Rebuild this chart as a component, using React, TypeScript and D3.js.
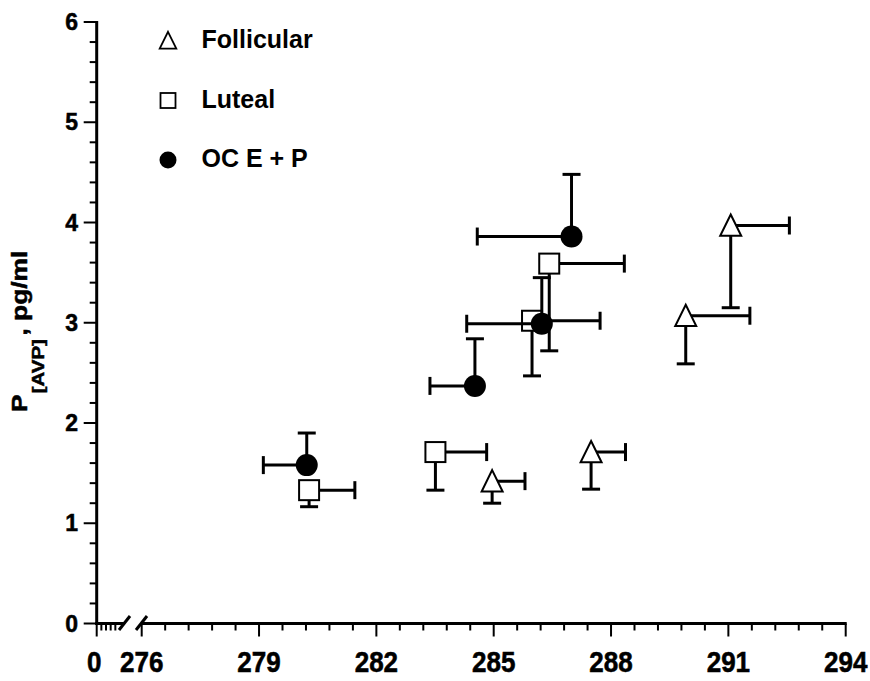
import React from 'react';
import * as d3 from 'd3';

// ---- data ----
const follicularX = [284.96, 287.49, 289.91, 291.06];
const follicularY = [1.42, 1.71, 3.07, 3.97];
const follicularXErr = [0.84, 0.88, 1.64, 1.5]; // to the right
const follicularYErr = [0.22, 0.37, 0.48, 0.82]; // downward

const lutealX = [280.28, 283.51, 285.98, 286.42];
const lutealY = [1.33, 1.71, 3.02, 3.59];
const lutealXErr = [1.17, 1.31, 1.74, 1.92]; // to the right
const lutealYErr = [0.165, 0.38, 0.55, 0.87]; // downward

const ocX = [280.22, 284.52, 286.23, 286.99];
const ocY = [1.58, 2.37, 2.99, 3.86];
const ocXErr = [1.11, 1.15, 1.92, 2.41]; // to the left
const ocYErr = [0.32, 0.47, 0.46, 0.62]; // upward

const xTicks = [276, 279, 282, 285, 288, 291, 294];
const xLowTicks = [0];
const yTicks = [0, 1, 2, 3, 4, 5, 6];
const legendLabels = ['Follicular', 'Luteal', 'OC E + P'];

const FONT = '"Liberation Sans", Arial, Helvetica, sans-serif';

export default function App() {
  const W = 870;
  const H = 681;
  const x = d3.scaleLinear().domain([276, 294]).range([141.7, 845.7]);
  const xLow = d3.scaleLinear().domain([0, 1]).range([96.7, 120]);
  const y = d3.scaleLinear().domain([0, 6]).range([623.5, 22]);

  const x0 = xLow(0);
  const yBase = y(0);

  const yMinor = d3.range(0, 6.0001, 0.2).filter((v) => Math.abs(v - Math.round(v)) > 1e-6);
  const xMinor = d3.range(276, 294.001, 0.6).filter((v) => Math.abs((v - 276) / 3 - Math.round((v - 276) / 3)) > 1e-6);
  const xLowMinor = [0.2, 0.4, 0.6, 0.8];

  const cap = 9;
  const wStroke = 3;

  const triPath = (cx: number, cy: number, s: number) =>
    `M${cx},${cy - s * 1.05} L${cx + s},${cy + s * 0.98} L${cx - s},${cy + s * 0.98} Z`;

  const heavy = { stroke: '#000', strokeWidth: 0.5 };

  return (
    <svg width={W} height={H} style={{ position: 'absolute', left: 0, top: 0, background: '#fff' }}>
      <rect x={0} y={0} width={W} height={H} fill="#fff" />
      {/* Y axis */}
      <line x1={x0} x2={x0} y1={y(6) - 1} y2={yBase + 1.5} stroke="#000" strokeWidth={3} />
      {yTicks.map((t) => (
        <line key={'ytM' + t} x1={x0 - 13} x2={x0} y1={y(t)} y2={y(t)} stroke="#000" strokeWidth={2} />
      ))}
      {yMinor.map((t, i) => (
        <line key={'ytm' + i} x1={x0 - 7} x2={x0} y1={y(t)} y2={y(t)} stroke="#000" strokeWidth={2} />
      ))}
      {yTicks.map((t) => (
        <text key={'yl' + t} x={78} y={y(t) + 8.2} textAnchor="end" fontFamily={FONT} fontWeight="bold" fontSize={23} {...heavy}>
          {t}
        </text>
      ))}

      {/* X axis, with break */}
      <line x1={x0 - 1.5} x2={124.5} y1={yBase} y2={yBase} stroke="#000" strokeWidth={3} />
      <line x1={x(276)} x2={x(294) + 1} y1={yBase} y2={yBase} stroke="#000" strokeWidth={3} />
      <line x1={119} y1={630} x2={130} y2={616} stroke="#000" strokeWidth={3} />
      <line x1={136} y1={630} x2={147} y2={616} stroke="#000" strokeWidth={3} />
      {xLowTicks.map((t) => (
        <line key={'xlM' + t} x1={xLow(t)} x2={xLow(t)} y1={yBase} y2={yBase + 13} stroke="#000" strokeWidth={2} />
      ))}
      {xLowMinor.map((t) => (
        <line key={'xlm' + t} x1={xLow(t)} x2={xLow(t)} y1={yBase} y2={yBase + 7} stroke="#000" strokeWidth={2} />
      ))}
      {xTicks.map((t) => (
        <line key={'xtM' + t} x1={x(t)} x2={x(t)} y1={yBase} y2={yBase + 13} stroke="#000" strokeWidth={2} />
      ))}
      {xMinor.map((t, i) => (
        <line key={'xtm' + i} x1={x(t)} x2={x(t)} y1={yBase} y2={yBase + 7} stroke="#000" strokeWidth={2} />
      ))}
      {xLowTicks.map((t) => (
        <g key={'xll' + t} transform={`translate(${xLow(t) - 2.5},672) scale(1,1.16)`}>
          <text x={0} y={0} textAnchor="middle" fontFamily={FONT} fontWeight="bold" fontSize={26} {...heavy}>
            {t}
          </text>
        </g>
      ))}
      {xTicks.map((t) => (
        <g key={'xl' + t} transform={`translate(${x(t)},672) scale(1,1.16)`}>
          <text x={0} y={0} textAnchor="middle" fontFamily={FONT} fontWeight="bold" fontSize={26} {...heavy}>
            {t}
          </text>
        </g>
      ))}

      {/* Y axis title */}
      <g transform="translate(27,412) rotate(-90) scale(1.2,1)">
        <text x={0} y={0} fontFamily={FONT} fontWeight="bold" fontSize={22} {...heavy}>
          P
          <tspan fontSize={17} dy={17} dx={1}>[AVP]</tspan>
          <tspan fontSize={22} dy={-17} dx={3}>, pg/ml</tspan>
        </text>
      </g>

      {/* Follicular: whiskers right and down */}
      {follicularX.map((v, i) => {
        const cx = x(v);
        const cy = y(follicularY[i]);
        const xr = x(v + follicularXErr[i]);
        const yd = y(follicularY[i] - follicularYErr[i]);
        return (
          <g key={'f' + i}>
            <line x1={cx} x2={xr} y1={cy} y2={cy} stroke="#000" strokeWidth={wStroke} />
            <line x1={xr} x2={xr} y1={cy - cap} y2={cy + cap} stroke="#000" strokeWidth={wStroke} />
            <line x1={cx} x2={cx} y1={cy} y2={yd} stroke="#000" strokeWidth={wStroke} />
            <line x1={cx - cap} x2={cx + cap} y1={yd} y2={yd} stroke="#000" strokeWidth={wStroke} />
            <path d={triPath(cx, cy, 10.5)} fill="#fff" stroke="#000" strokeWidth={2} />
          </g>
        );
      })}

      {/* Luteal: whiskers right and down */}
      {lutealX.map((v, i) => {
        const cx = x(v);
        const cy = y(lutealY[i]);
        const xr = x(v + lutealXErr[i]);
        const yd = y(lutealY[i] - lutealYErr[i]);
        return (
          <g key={'l' + i}>
            <line x1={cx} x2={xr} y1={cy} y2={cy} stroke="#000" strokeWidth={wStroke} />
            <line x1={xr} x2={xr} y1={cy - cap} y2={cy + cap} stroke="#000" strokeWidth={wStroke} />
            <line x1={cx} x2={cx} y1={cy} y2={yd} stroke="#000" strokeWidth={wStroke} />
            <line x1={cx - cap} x2={cx + cap} y1={yd} y2={yd} stroke="#000" strokeWidth={wStroke} />
            <rect x={cx - 10} y={cy - 10} width={20} height={20} fill="#fff" stroke="#000" strokeWidth={2} />
          </g>
        );
      })}

      {/* OC E + P: whiskers left and up */}
      {ocX.map((v, i) => {
        const cx = x(v);
        const cy = y(ocY[i]);
        const xl = x(v - ocXErr[i]);
        const yu = y(ocY[i] + ocYErr[i]);
        return (
          <g key={'o' + i}>
            <line x1={xl} x2={cx} y1={cy} y2={cy} stroke="#000" strokeWidth={wStroke} />
            <line x1={xl} x2={xl} y1={cy - cap} y2={cy + cap} stroke="#000" strokeWidth={wStroke} />
            <line x1={cx} x2={cx} y1={cy} y2={yu} stroke="#000" strokeWidth={wStroke} />
            <line x1={cx - cap} x2={cx + cap} y1={yu} y2={yu} stroke="#000" strokeWidth={wStroke} />
            <circle cx={cx} cy={cy} r={11} fill="#000" />
          </g>
        );
      })}

      {/* Legend */}
      <path d={triPath(168, 40.5, 8.3)} fill="#fff" stroke="#000" strokeWidth={1.8} />
      <rect x={160.5} y={93} width={15} height={15} fill="#fff" stroke="#000" strokeWidth={1.8} />
      <circle cx={168} cy={160} r={8.5} fill="#000" />
      {legendLabels.map((l, i) => (
        <text key={l} x={201.5} y={[48.3, 108.3, 166.7][i]} fontFamily={FONT} fontWeight="bold" fontSize={25}>
          {l}
        </text>
      ))}
    </svg>
  );
}
